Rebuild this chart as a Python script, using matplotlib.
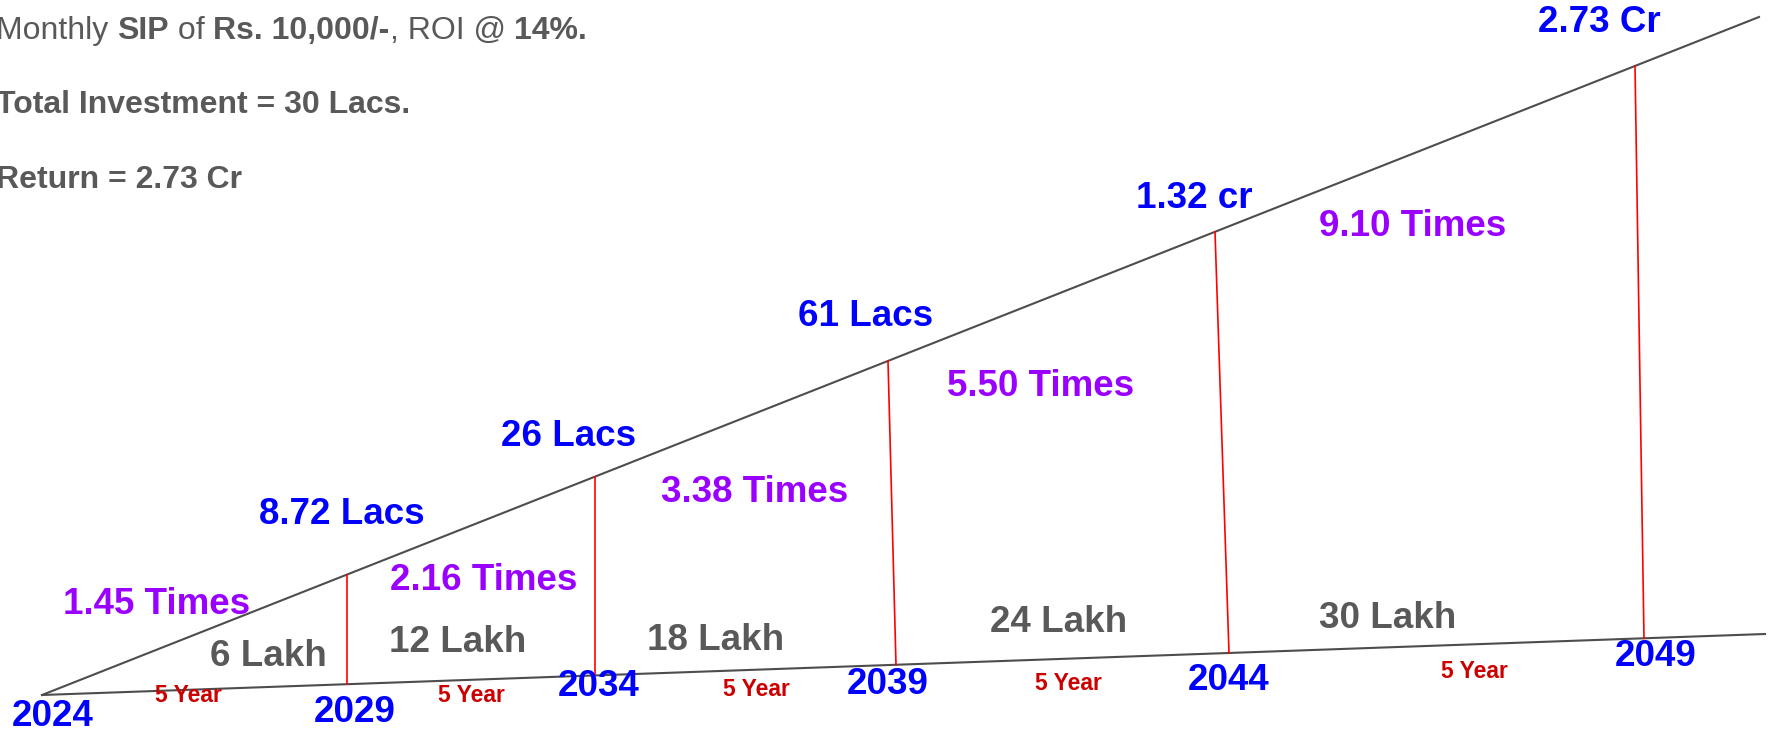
import matplotlib.pyplot as plt

plt.rcParams['font.family'] = ['Liberation Sans', 'DejaVu Sans']

# Data -----------------------------------------------------------------------------------------------------------------
years = ['2024', '2029', '2034', '2039', '2044', '2049']
corpus_labels = ['8.72 Lacs', '26 Lacs', '61 Lacs', '1.32 cr', '2.73 Cr']
invested_labels = ['6 Lakh', '12 Lakh', '18 Lakh', '24 Lakh', '30 Lakh']
multiple_labels = ['1.45 Times', '2.16 Times', '3.38 Times', '5.50 Times', '9.10 Times']
period_label = '5 Year'

# Layout (pixel space of the sketch) -----------------------------------------------------------------------------------
origin = (42, 695)
top_end = (1759, 17)
bottom_end = (1765, 634)
red_bottom_x = [347, 595, 896, 1229, 1644]
red_top_x = [347, 595, 888, 1215, 1635]

year_pos = [(53, 717), (355, 713), (599, 687), (888, 684), (1229, 680), (1656, 657)]
corpus_pos = [(342, 515), (569, 437), (866, 316), (1194, 199), (1599, 22)]
multiple_pos = [(157, 605), (484, 580), (755, 493), (1041, 387), (1413, 226)]
invested_pos = [(268, 657), (458, 642), (716, 641), (1059, 623), (1388, 619)]
period_pos = [(188, 695), (471, 695), (756, 689), (1068, 683), (1474, 672)]

BLUE = '#0000FF'
PURPLE = '#9900FF'
GREY = '#595959'
DARKRED = '#CC0000'


def y_on(line_end, x):
    return origin[1] + (line_end[1] - origin[1]) * (x - origin[0]) / (line_end[0] - origin[0])


fig = plt.figure(figsize=(17.74, 7.33), dpi=100)
ax = fig.add_axes([0, 0, 1, 1])
ax.set_xlim(0, 1774)
ax.set_ylim(733, 0)
ax.axis('off')

# main wedge
ax.plot([origin[0], top_end[0]], [origin[1], top_end[1]], color='#4d4d4d', lw=1.5)
ax.plot([origin[0], bottom_end[0]], [origin[1], bottom_end[1]], color='#4d4d4d', lw=1.5)

# red dividers
for xb, xt in zip(red_bottom_x, red_top_x):
    ax.plot([xb, xt], [y_on(bottom_end, xb), y_on(top_end, xt)], color='#FF0000', lw=1.2)

big = 26.5
for s, (x, y) in zip(years, year_pos):
    ax.text(x, y, s, color=BLUE, fontsize=big, fontweight='bold', ha='center', va='center')
for s, (x, y) in zip(corpus_labels, corpus_pos):
    ax.text(x, y, s, color=BLUE, fontsize=big, fontweight='bold', ha='center', va='center')
for s, (x, y) in zip(multiple_labels, multiple_pos):
    ax.text(x, y, s, color=PURPLE, fontsize=big, fontweight='bold', ha='center', va='center')
for s, (x, y) in zip(invested_labels, invested_pos):
    ax.text(x, y, s, color=GREY, fontsize=big, fontweight='bold', ha='center', va='center')
for (x, y) in period_pos:
    ax.text(x, y, period_label, color=DARKRED, fontsize=16.5, fontweight='bold', ha='center', va='center')

# header ---------------------------------------------------------------------------------------------------------------
hsize = 23
header_parts = [('Monthly ', 'normal'), ('SIP', 'bold'), (' of ', 'normal'), ('Rs. 10,000/-', 'bold'),
                (', ROI @ ', 'normal'), ('14%.', 'bold')]
prev = None
for s, w in header_parts:
    if prev is None:
        prev = ax.text(-4, 31, s, color=GREY, fontsize=hsize, fontweight=w, ha='left', va='center')
    else:
        prev = ax.annotate(s, xy=(1, 0), xycoords=prev, color=GREY, fontsize=hsize, fontweight=w,
                           ha='left', va='bottom')
ax.text(-4, 105, 'Total Investment = 30 Lacs.', color=GREY, fontsize=hsize, fontweight='bold', ha='left', va='center')
ax.text(-4, 180, 'Return = 2.73 Cr', color=GREY, fontsize=hsize, fontweight='bold', ha='left', va='center')

fig.savefig('out.png', dpi=100)
